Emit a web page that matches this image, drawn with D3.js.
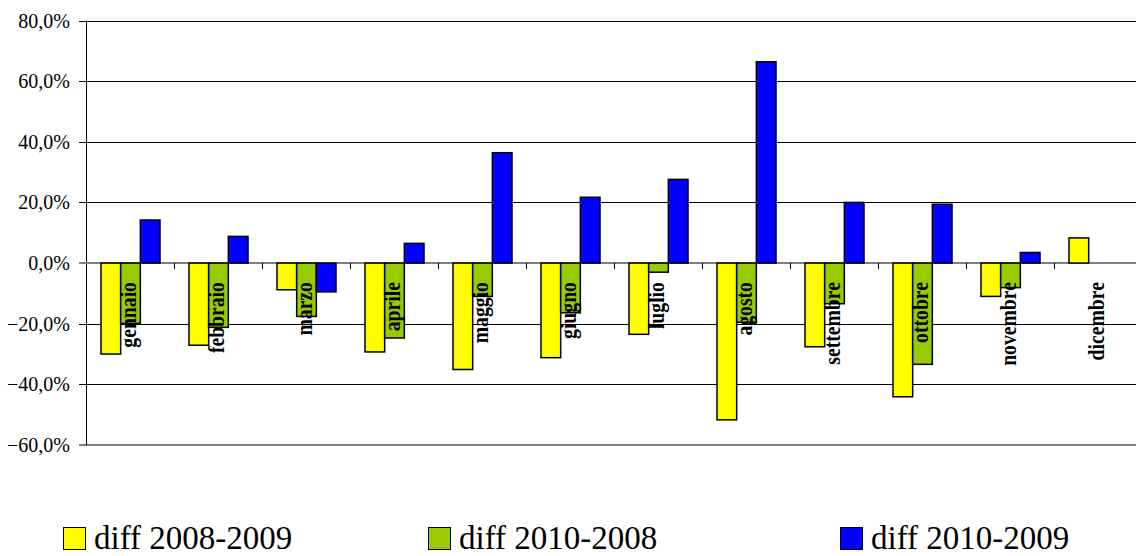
<!DOCTYPE html>
<html>
<head>
<meta charset="utf-8">
<script src="https://cdn.jsdelivr.net/npm/d3@7"></script>
<style>
  html, body { margin: 0; padding: 0; background: #fff; }
  svg { display: block; }
  text { font-family: "Liberation Serif", "Times New Roman", serif; }
</style>
</head>
<body>
<svg id="chart" width="1136" height="556"></svg>
<script>
const months = ["gennaio","febbraio","marzo","aprile","maggio","giugno","luglio","agosto","settembre","ottobre","novembre","dicembre"];
const seriesNames = ["diff 2008-2009","diff 2010-2008","diff 2010-2009"];
const diff0809 = [-30.0,-27.1,-8.8,-29.3,-35.1,-31.2,-23.5,-51.7,-27.6,-44.1,-11.0,8.3];
const diff1008 = [-19.9,-21.2,-17.6,-24.7,-11.0,-16.4,-3.0,-19.5,-13.4,-33.4,-8.1,null];
const diff1009 = [14.2,8.8,-9.5,6.5,36.4,21.7,27.6,66.4,20.0,19.4,3.5,null];
const yTicks = [-60,-40,-20,0,20,40,60,80];
const colors = ["#FFFF00","#99CC00","#0000FF"];

const seriesValues = [diff0809, diff1008, diff1009];

(function () {
const svg = d3.select("#chart");
const mLeft = 86, mTop = 20.5, mBottom = 445, bandW = 88;

const x0 = d3.scaleBand().domain(months).range([mLeft, mLeft + bandW * months.length]).padding(0);
const x1 = d3.scaleBand().domain(seriesNames).range([15, 74]).padding(0);
const y = d3.scaleLinear().domain([-60, 80]).range([mBottom, mTop]);

const fmt = v => d3.format(".1f")(v).replace(".", ",") + "%";

// gridlines (extend left as tick marks)
svg.append("g").selectAll("line").data(yTicks.filter(t => t !== 0 && t !== -60)).join("line")
  .attr("x1", mLeft - 7).attr("x2", 1136)
  .attr("y1", d => Math.round(y(d)) + 0.5).attr("y2", d => Math.round(y(d)) + 0.5)
  .attr("stroke", "#000").attr("stroke-width", 1);

// bottom border line
svg.append("line").attr("x1", mLeft - 7).attr("x2", 1136)
  .attr("y1", y(-60)).attr("y2", y(-60))
  .attr("stroke", "#808080").attr("stroke-width", 2);

// y axis line
svg.append("line").attr("x1", mLeft + 0.5).attr("x2", mLeft + 0.5)
  .attr("y1", y(80)).attr("y2", y(-60)).attr("stroke", "#000").attr("stroke-width", 1);

// y tick labels
svg.append("g").selectAll("text").data(yTicks).join("text")
  .attr("x", 70).attr("y", d => y(d)).attr("dy", "0.35em")
  .attr("text-anchor", "end")
  .style("font-size", "20px").attr("fill", "#000")
  .text(fmt);

// zero line
svg.append("line").attr("x1", mLeft - 7).attr("x2", 1136)
  .attr("y1", y(0)).attr("y2", y(0))
  .attr("stroke", "#808080").attr("stroke-width", 2);

// category ticks
svg.append("g").selectAll("line").data(months.slice(1)).join("line")
  .attr("x1", d => Math.round(x0(d)) + 0.5).attr("x2", d => Math.round(x0(d)) + 0.5)
  .attr("y1", y(0)).attr("y2", y(0) + 6)
  .attr("stroke", "#000").attr("stroke-width", 1);

// bars
const barData = [];
months.forEach((m, i) => {
  seriesNames.forEach((s, j) => {
    const v = seriesValues[j][i];
    if (v !== null && v !== undefined) barData.push({m, s, v, c: colors[j]});
  });
});
svg.append("g").selectAll("rect").data(barData).join("rect")
  .attr("x", d => x0(d.m) + x1(d.s))
  .attr("width", x1.bandwidth())
  .attr("y", d => y(Math.max(0, d.v)))
  .attr("height", d => Math.abs(y(d.v) - y(0)))
  .attr("fill", d => d.c)
  .attr("stroke", "#000").attr("stroke-width", 1.5);

// category labels (rotated, bold)
svg.append("g").selectAll("text").data(months).join("text")
  .attr("transform", d => `translate(${x0(d) + x0.bandwidth() / 2 + 6},${y(0) + 19}) rotate(-90) scale(0.82,1)`)
  .attr("text-anchor", "end")
  .style("font-weight", "bold")
  .style("font-size", "24px").attr("fill", "#000")
  .text(d => d);

// legend
const legendX = [63, 428, 840];
const lg = svg.append("g").selectAll("g").data(seriesNames).join("g")
  .attr("transform", (d, i) => `translate(${legendX[i]},527)`);
lg.append("rect").attr("x", 0.5).attr("y", 0.5).attr("width", 22).attr("height", 22)
  .attr("fill", (d, i) => colors[i]).attr("stroke", "#000").attr("stroke-width", 1);
lg.append("text").attr("x", 31).attr("y", 21.5)
  .style("font-size", "33px").attr("fill", "#000")
  .text(d => d);
})();
</script>
</body>
</html>
